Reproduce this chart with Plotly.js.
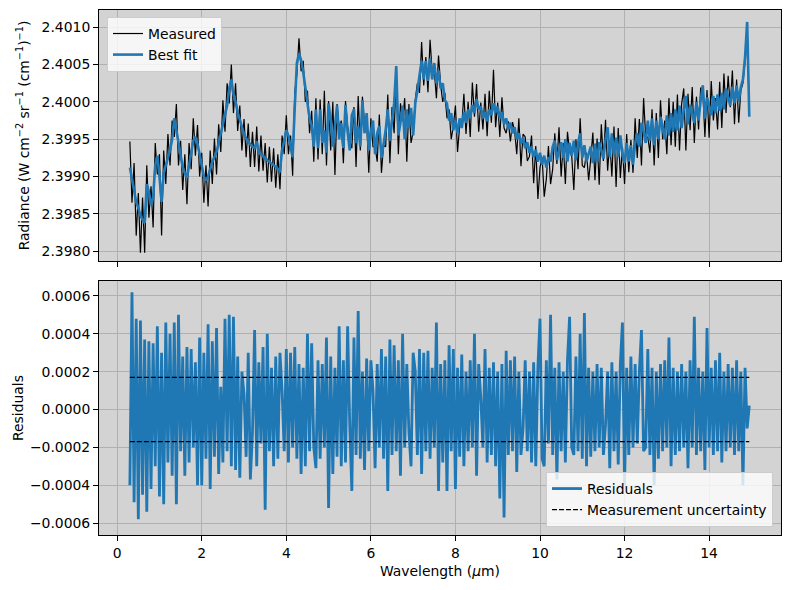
<!DOCTYPE html>
<html><head><meta charset="utf-8">
<script src="https://cdn.plot.ly/plotly-3.0.1.min.js"></script>
<style>html,body{margin:0;padding:0;background:#fff}#chart{width:790px;height:590px}</style>
</head><body><div id="chart"></div>
<script>
const wavelength = [
0.30,0.35,0.40,0.45,0.50,0.55,0.60,0.65,0.70,0.75,
0.80,0.85,0.90,0.95,1.00,1.05,1.10,1.15,1.20,1.25,
1.30,1.35,1.40,1.45,1.50,1.55,1.60,1.65,1.70,1.75,
1.80,1.85,1.90,1.95,2.00,2.05,2.10,2.15,2.20,2.25,
2.30,2.35,2.40,2.45,2.50,2.55,2.60,2.65,2.70,2.75,
2.80,2.85,2.90,2.95,3.00,3.05,3.10,3.15,3.20,3.25,
3.30,3.35,3.40,3.45,3.50,3.55,3.60,3.65,3.70,3.75,
3.80,3.85,3.90,3.95,4.00,4.05,4.10,4.15,4.20,4.25,
4.30,4.35,4.40,4.45,4.50,4.55,4.60,4.65,4.70,4.75,
4.80,4.85,4.90,4.95,5.00,5.05,5.10,5.15,5.20,5.25,
5.30,5.35,5.40,5.45,5.50,5.55,5.60,5.65,5.70,5.75,
5.80,5.85,5.90,5.95,6.00,6.05,6.10,6.15,6.20,6.25,
6.30,6.35,6.40,6.45,6.50,6.55,6.60,6.65,6.70,6.75,
6.80,6.85,6.90,6.95,7.00,7.05,7.10,7.15,7.20,7.25,
7.30,7.35,7.40,7.45,7.50,7.55,7.60,7.65,7.70,7.75,
7.80,7.85,7.90,7.95,8.00,8.05,8.10,8.15,8.20,8.25,
8.30,8.35,8.40,8.45,8.50,8.55,8.60,8.65,8.70,8.75,
8.80,8.85,8.90,8.95,9.00,9.05,9.10,9.15,9.20,9.25,
9.30,9.35,9.40,9.45,9.50,9.55,9.60,9.65,9.70,9.75,
9.80,9.85,9.90,9.95,10.00,10.05,10.10,10.15,10.20,10.25,
10.30,10.35,10.40,10.45,10.50,10.55,10.60,10.65,10.70,10.75,
10.80,10.85,10.90,10.95,11.00,11.05,11.10,11.15,11.20,11.25,
11.30,11.35,11.40,11.45,11.50,11.55,11.60,11.65,11.70,11.75,
11.80,11.85,11.90,11.95,12.00,12.05,12.10,12.15,12.20,12.25,
12.30,12.35,12.40,12.45,12.50,12.55,12.60,12.65,12.70,12.75,
12.80,12.85,12.90,12.95,13.00,13.05,13.10,13.15,13.20,13.25,
13.30,13.35,13.40,13.45,13.50,13.55,13.60,13.65,13.70,13.75,
13.80,13.85,13.90,13.95,14.00,14.05,14.10,14.15,14.20,14.25,
14.30,14.35,14.40,14.45,14.50,14.55,14.60,14.65,14.70,14.75,
14.80,14.85,14.90,14.95
];

const measured = [
2.39947,2.39865,2.39918,2.39821,2.39878,2.39798,2.39872,2.39798,2.39915,2.39845,
2.39887,2.39832,2.39945,2.39903,2.39930,2.39821,2.39935,2.39890,2.39957,2.39915,
2.39975,2.39953,2.39997,2.39915,2.39948,2.39882,2.39930,2.39863,2.39945,2.39910,
2.39978,2.39928,2.39969,2.39900,2.39932,2.39865,2.39915,2.39860,2.39935,2.39890,
2.39951,2.39903,2.39970,2.39933,2.40002,2.39960,2.40025,2.39998,2.40050,2.39985,
2.40025,2.39961,2.39995,2.39935,2.39977,2.39926,2.39971,2.39913,2.39960,2.39913,
2.39967,2.39907,2.39955,2.39908,2.39945,2.39892,2.39940,2.39893,2.39938,2.39885,
2.39930,2.39883,2.39955,2.39930,2.39982,2.39930,2.39955,2.39901,2.40013,2.40037,
2.40085,2.40041,2.40055,2.40000,2.40015,2.39958,2.39988,2.39920,2.40005,2.39923,
2.40003,2.39930,2.40015,2.39915,2.40001,2.39935,2.40000,2.39902,2.39997,2.39965,
2.39975,2.39918,2.40001,2.39967,2.39948,2.39938,2.39993,2.39913,2.40008,2.39935,
2.40007,2.39970,2.39977,2.39905,2.39978,2.39940,2.39940,2.39920,2.39983,2.39905,
2.39942,2.39940,2.40010,2.39918,2.39993,2.39958,2.40038,2.39930,2.39998,2.39975,
2.40005,2.39920,2.39997,2.39945,2.39960,2.40003,2.40025,2.40012,2.40080,2.40022,
2.40060,2.40013,2.40083,2.40040,2.40042,2.40005,2.40062,2.40023,2.40000,2.40012,
2.39978,2.39990,2.39950,2.39967,2.39995,2.39933,2.39968,2.39968,2.40011,2.39957,
2.40000,2.39953,2.40026,2.39980,2.40024,2.39960,2.39999,2.39963,2.40011,2.39954,
2.40015,2.39972,2.40043,2.39966,2.39999,2.39953,2.40006,2.39965,2.39958,2.39974,
2.39947,2.39973,2.39961,2.39930,2.39978,2.39914,2.39957,2.39953,2.39921,2.39927,
2.39955,2.39891,2.39941,2.39870,2.39912,2.39926,2.39873,2.39897,2.39941,2.39890,
2.39910,2.39958,2.39917,2.39966,2.39900,2.39945,2.39890,2.39960,2.39933,2.39928,
2.39882,2.39950,2.39910,2.39978,2.39915,2.39912,2.39932,2.39895,2.39923,2.39959,
2.39895,2.39951,2.39889,2.39970,2.39921,2.39976,2.39908,2.39948,2.39900,2.39967,
2.39886,2.39965,2.39898,2.39940,2.39890,2.39957,2.39906,2.39949,2.39905,2.39978,
2.39925,2.39977,2.39915,2.40005,2.39953,2.39953,2.39932,2.39990,2.39915,2.39985,
2.39925,2.40002,2.39950,2.39975,2.39930,2.40005,2.39942,2.40000,2.39940,2.40010,
2.39935,2.39997,2.40018,2.39935,2.40011,2.39962,2.40020,2.39945,2.40007,2.39963,
2.40019,2.40017,2.39953,2.40016,2.39952,2.40028,2.39975,2.40005,2.39963,2.40027,
2.39965,2.40038,2.39985,2.40035,2.39993,2.40042,2.39970,2.40030,2.39972,2.40015,
2.40025,2.40055,2.40100,2.39985
];

const bestFit = [
2.39912,2.39895,2.39878,2.39866,2.39858,2.39848,2.39842,2.39838,2.39890,2.39880,
2.39862,2.39872,2.39915,2.39928,2.39900,2.39866,2.39905,2.39915,2.39922,2.39935,
2.39950,2.39978,2.39962,2.39945,2.39928,2.39912,2.39905,2.39898,2.39915,2.39935,
2.39948,2.39953,2.39944,2.39930,2.39912,2.39900,2.39895,2.39900,2.39910,2.39920,
2.39926,2.39933,2.39945,2.39958,2.39972,2.39985,2.39995,2.40018,2.40030,2.40010,
2.40000,2.39986,2.39975,2.39965,2.39957,2.39951,2.39946,2.39943,2.39940,2.39938,
2.39947,2.39932,2.39930,2.39928,2.39925,2.39922,2.39920,2.39918,2.39916,2.39913,
2.39910,2.39908,2.39935,2.39950,2.39962,2.39955,2.39940,2.39926,2.39993,2.40052,
2.40065,2.40056,2.40040,2.40020,2.40000,2.39978,2.39968,2.39940,2.39990,2.39938,
2.39990,2.39945,2.39962,2.39932,2.39998,2.39975,2.39940,2.39968,2.39995,2.39950,
2.39972,2.39938,2.39996,2.39960,2.39935,2.39982,2.39990,2.39945,2.39968,2.39940,
2.40002,2.39958,2.39985,2.39935,2.39960,2.39975,2.39930,2.39958,2.39968,2.39925,
2.39945,2.39962,2.39990,2.39948,2.39975,2.39998,2.40048,2.39955,2.39972,2.39995,
2.39950,2.39990,2.39965,2.39992,2.39955,2.39998,2.40015,2.40032,2.40055,2.40030,
2.40055,2.40028,2.40058,2.40030,2.40052,2.40025,2.40042,2.40018,2.40025,2.40002,
2.39998,2.39975,2.39985,2.39962,2.39975,2.39958,2.39978,2.39965,2.39986,2.39972,
2.39990,2.39978,2.39996,2.39985,2.40004,2.39990,2.39994,2.39978,2.39986,2.39974,
2.39990,2.39982,2.39998,2.39986,2.39994,2.39978,2.39986,2.39970,2.39978,2.39964,
2.39972,2.39958,2.39966,2.39950,2.39958,2.39944,2.39952,2.39938,2.39946,2.39932,
2.39940,2.39926,2.39936,2.39920,2.39932,2.39916,2.39928,2.39912,2.39926,2.39920,
2.39940,2.39948,2.39922,2.39935,2.39946,2.39925,2.39950,2.39920,2.39945,2.39928,
2.39948,2.39922,2.39945,2.39958,2.39925,2.39942,2.39920,2.39930,2.39940,2.39918,
2.39944,2.39920,2.39946,2.39935,2.39924,2.39950,2.39966,2.39926,2.39958,2.39930,
2.39952,2.39926,2.39955,2.39930,2.39918,2.39945,2.39920,2.39942,2.39916,2.39944,
2.39958,2.39940,2.39972,2.39960,2.39945,2.39975,2.39948,2.39978,2.39942,2.39975,
2.39950,2.39980,2.39965,2.39950,2.39982,2.39955,2.39985,2.39960,2.39990,2.39962,
2.39995,2.39965,2.39990,2.40008,2.39970,2.39996,2.39985,2.39972,2.40000,2.39975,
2.40002,2.40022,2.39978,2.40006,2.39995,2.39982,2.40008,2.39985,2.40010,2.39988,
2.40012,2.39990,2.40018,2.40005,2.39995,2.40020,2.39998,2.40022,2.40000,2.40020,
2.40030,2.40060,2.40107,2.39980
];

const residuals = [
-0.00040,0.00062,-0.00049,0.00048,-0.00058,0.00047,-0.00045,0.00037,-0.00054,0.00036,
-0.00042,0.00035,-0.00030,0.00044,-0.00046,0.00030,-0.00050,0.00046,-0.00028,0.00040,
-0.00035,0.00046,-0.00050,0.00050,-0.00022,0.00028,-0.00035,0.00033,-0.00028,0.00032,
-0.00020,0.00025,-0.00040,0.00038,-0.00040,0.00030,-0.00026,0.00045,-0.00042,0.00036,
-0.00025,0.00043,-0.00034,0.00012,-0.00028,0.00048,-0.00022,0.00050,-0.00030,0.00049,
-0.00032,0.00028,-0.00036,0.00020,0.00008,-0.00025,0.00030,-0.00037,-0.00012,0.00042,
-0.00030,0.00025,-0.00018,0.00033,-0.00053,0.00040,-0.00022,0.00022,-0.00030,0.00028,
-0.00026,0.00030,0.00010,-0.00022,0.00032,-0.00028,0.00030,-0.00020,0.00033,-0.00026,
0.00024,-0.00034,0.00022,-0.00030,0.00040,-0.00022,0.00035,-0.00020,-0.00031,0.00026,
-0.00026,0.00024,-0.00020,0.00038,-0.00052,0.00028,-0.00034,0.00022,-0.00025,0.00044,
-0.00030,0.00026,-0.00028,0.00044,-0.00008,-0.00043,0.00038,-0.00024,0.00052,-0.00026,
0.00020,-0.00032,0.00027,-0.00022,0.00026,0.00010,-0.00031,0.00024,-0.00020,0.00032,
-0.00026,0.00028,-0.00043,0.00037,-0.00024,0.00034,-0.00022,0.00026,-0.00035,0.00040,
-0.00020,0.00024,-0.00012,-0.00030,0.00030,0.00020,-0.00024,0.00032,-0.00034,0.00030,
-0.00022,0.00031,-0.00026,0.00022,-0.00020,0.00046,-0.00043,0.00024,-0.00028,0.00026,
-0.00043,0.00034,-0.00022,0.00032,-0.00042,0.00022,-0.00025,0.00029,-0.00030,0.00020,
-0.00022,0.00026,-0.00020,0.00040,-0.00035,0.00024,0.00006,-0.00020,0.00032,-0.00028,
0.00022,-0.00024,0.00025,-0.00030,0.00020,-0.00047,0.00024,-0.00057,0.00031,-0.00024,
0.00026,-0.00022,0.00028,-0.00033,0.00020,-0.00024,-0.00010,0.00026,-0.00022,0.00020,
-0.00028,0.00025,-0.00030,0.00022,0.00048,-0.00026,-0.00030,0.00026,-0.00018,0.00050,
-0.00024,0.00022,-0.00037,0.00025,-0.00022,0.00020,-0.00028,0.00026,0.00049,-0.00020,
-0.00024,0.00028,-0.00022,0.00040,-0.00026,0.00051,-0.00030,0.00022,-0.00025,0.00020,
-0.00022,0.00024,-0.00020,0.00022,-0.00024,-0.00008,0.00020,-0.00031,0.00025,-0.00022,
0.00020,-0.00029,0.00024,0.00046,-0.00040,0.00022,-0.00024,0.00028,-0.00020,0.00024,
-0.00018,0.00020,0.00042,-0.00022,-0.00020,0.00032,-0.00024,0.00022,-0.00040,0.00020,
-0.00026,0.00024,-0.00022,0.00026,-0.00020,0.00038,-0.00030,0.00022,-0.00024,0.00020,
-0.00022,0.00024,-0.00020,0.00020,-0.00031,0.00026,-0.00020,0.00049,-0.00024,0.00022,
-0.00022,0.00020,-0.00032,0.00043,-0.00020,0.00022,-0.00024,0.00026,-0.00022,0.00030,
-0.00028,0.00020,-0.00022,0.00024,-0.00020,0.00022,-0.00024,0.00026,-0.00022,0.00020,
-0.00040,0.00022,-0.00010,0.00002
];

const uncertainty = [0.00017];

const seriesNames = ['Measured', 'Best fit', 'Residuals', 'Measurement uncertainty'];

const xStart = wavelength[0];
const xEnd = wavelength[wavelength.length - 1];
const u = uncertainty[0];

const traces = [
  {x: wavelength, y: measured, type: 'scatter', mode: 'lines', name: seriesNames[0],
   line: {color: '#000000', width: 1.2}, xaxis: 'x', yaxis: 'y', legend: 'legend'},
  {x: wavelength, y: bestFit, type: 'scatter', mode: 'lines', name: seriesNames[1],
   line: {color: '#1f77b4', width: 2.6}, xaxis: 'x', yaxis: 'y', legend: 'legend'},
  {x: wavelength, y: residuals, type: 'scatter', mode: 'lines', name: seriesNames[2],
   line: {color: '#1f77b4', width: 2.8}, xaxis: 'x2', yaxis: 'y2', legend: 'legend2'},
  {x: [xStart, xEnd, null, xStart, xEnd], y: [u, u, null, -u, -u], type: 'scatter', mode: 'lines',
   name: seriesNames[3], line: {color: '#000000', width: 1.2, dash: '5px,2px'},
   xaxis: 'x2', yaxis: 'y2', legend: 'legend2', connectgaps: false}
];

const font = {family: 'DejaVu Sans, sans-serif', size: 13.9, color: '#000000'};
const axisCommon = {
  ticks: 'outside', ticklen: 5, tickwidth: 1, tickcolor: '#000000',
  showgrid: true, gridcolor: '#b0b0b0', gridwidth: 1,
  showline: true, linecolor: '#000000', linewidth: 1, mirror: true,
  zeroline: false, tickfont: font
};

const layout = {
  width: 790, height: 590,
  margin: {l: 99, r: 9, t: 10, b: 55, pad: 0},
  paper_bgcolor: '#ffffff',
  plot_bgcolor: '#d3d3d3',
  font: font,
  showlegend: true,
  xaxis: Object.assign({}, axisCommon, {domain: [0, 1], anchor: 'y', range: [-0.43, 15.70],
    tick0: 0, dtick: 2, showticklabels: false}),
  yaxis: Object.assign({}, axisCommon, {domain: [0.5219, 1], anchor: 'x', range: [2.39787, 2.40123],
    tick0: 2.398, dtick: 0.0005, tickformat: '.4f',
    title: {text: 'Radiance (W cm<sup>−2</sup> sr<sup>−1</sup> (cm<sup>−1</sup>)<sup>−1</sup>)', font: font, standoff: 8}}),
  xaxis2: Object.assign({}, axisCommon, {domain: [0, 1], anchor: 'y2', range: [-0.43, 15.70],
    tick0: 0, dtick: 2,
    title: {text: 'Wavelength (<i>μ</i>m)', font: font, standoff: 6}}),
  yaxis2: Object.assign({}, axisCommon, {domain: [0, 0.4838], anchor: 'x2', range: [-0.000663, 0.000679],
    tick0: 0, dtick: 0.0002, tickformat: '.4f',
    title: {text: 'Residuals', font: font, standoff: 3}}),
  legend: {x: 0.0117, y: 0.9867, xanchor: 'left', yanchor: 'top',
    bgcolor: 'rgba(255,255,255,0.8)', bordercolor: '#cccccc', borderwidth: 1, font: font},
  legend2: {x: 0.9883, y: 0.0152, xanchor: 'right', yanchor: 'bottom',
    bgcolor: 'rgba(255,255,255,0.8)', bordercolor: '#cccccc', borderwidth: 1, font: font}
};

Plotly.newPlot('chart', traces, layout, {staticPlot: true, displayModeBar: false});
</script>
</body></html>
